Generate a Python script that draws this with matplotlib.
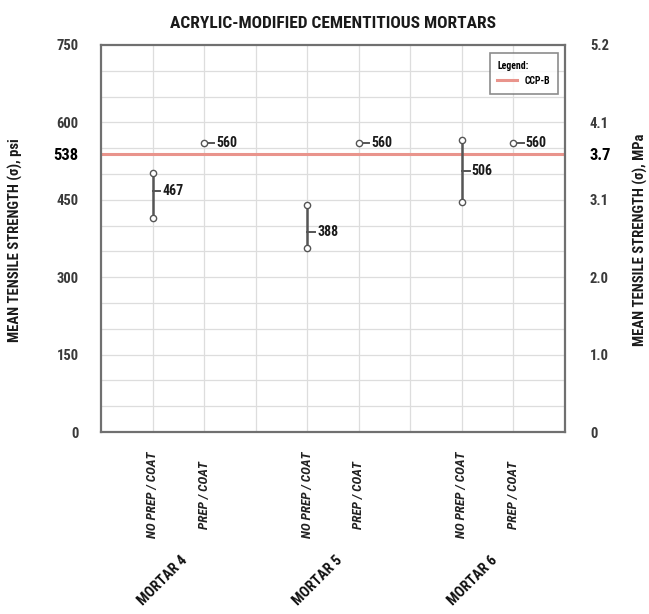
"""Acrylic-modified cementitious mortars: mean tensile strength ranges vs CCP-B."""

import matplotlib.pyplot as plt
import numpy as np
from matplotlib import font_manager

# pick a narrow face if one is installed
_names = {f.name for f in font_manager.fontManager.ttflist}
_narrow = [n for n in ["Liberation Sans Narrow", "DejaVu Sans Condensed",
                       "Roboto Condensed", "Open Sans Condensed"] if n in _names]
FONT = _narrow[:1] + ["DejaVu Sans"]
plt.rcParams["font.family"] = FONT
plt.rcParams["font.weight"] = "bold"

# ---------------------------------------------------------------------------
# Data (psi)
# ---------------------------------------------------------------------------
mortars = ["MORTAR 4", "MORTAR 5", "MORTAR 6"]
conditions = ["NO PREP / COAT", "PREP / COAT"]

nopre_low = [414, 356, 446]
nopre_high = [501, 440, 566]
nopre_mean = [467, 388, 506]
prep_mean = [560, 560, 560]

ccp_b = 538

psi_ticks = [0, 150, 300, 450, 538, 600, 750]
mpa_labels = ["0", "1.0", "2.0", "3.1", "3.7", "4.1", "5.2"]

# category slots: two per mortar, an empty slot between groups
pos_nopre = np.array([1, 4, 7])
pos_prep = pos_nopre + 1

GRAY = "#555555"
RED = "#e9948c"

fig = plt.figure(figsize=(6.49, 6.14), dpi=100)
ax = fig.add_axes([101 / 649, 1 - 432 / 614, 464 / 649, 387 / 614])

ax.set_xlim(0, 9)
ax.set_ylim(0, 750)

# grid
for y in range(50, 750, 50):
    ax.axhline(y, color="#dddddd", lw=0.9, zorder=0)
for x in range(1, 9):
    ax.axvline(x, color="#dddddd", lw=0.9, zorder=0)

# CCP-B reference
ax.axhline(ccp_b, color=RED, lw=2.2, zorder=1, label="CCP-B")

# no prep / coat ranges
for x, lo, hi, m in zip(pos_nopre, nopre_low, nopre_high, nopre_mean):
    ax.plot([x, x], [lo, hi], color=GRAY, lw=1.8, zorder=2)
    ax.plot([x, x], [lo, hi], ls="none", marker="o", ms=4.5, mfc="white",
            mec=GRAY, mew=1.0, zorder=3)
    ax.plot([x, x + 0.15], [m, m], color=GRAY, lw=1.4, zorder=2)
    ax.text(x + 0.19, m, str(m), ha="left", va="center", fontsize=10,
            color="#1a1a1a", fontweight="bold")

# prep / coat single values
for x, m in zip(pos_prep, prep_mean):
    ax.plot([x, x + 0.2], [m, m], color=GRAY, lw=1.4, zorder=2)
    ax.plot([x], [m], ls="none", marker="o", ms=4.5, mfc="white",
            mec=GRAY, mew=1.0, zorder=3)
    ax.text(x + 0.24, m, str(m), ha="left", va="center", fontsize=10,
            color="#1a1a1a", fontweight="bold")

for sp in ax.spines.values():
    sp.set_color("#707070")
    sp.set_linewidth(1.6)

# left axis
ax.set_yticks(psi_ticks)
ax.set_yticklabels([str(t) for t in psi_ticks])
ax.tick_params(axis="y", length=0, pad=16, labelsize=10.5, labelcolor="#3a3a3a")
for lab in ax.get_yticklabels():
    if lab.get_text() == str(ccp_b):
        lab.set_color("black")
        lab.set_fontsize(12)

# x tick labels
xticks = np.concatenate([pos_nopre, pos_prep])
ax.set_xticks(xticks)
ax.set_xticklabels([conditions[0]] * 3 + [conditions[1]] * 3)
ax.tick_params(axis="x", length=0, pad=0)
for lab in ax.get_xticklabels():
    lab.set_rotation(90)
    lab.set_fontstyle("italic")
    lab.set_fontsize(9.5)
    lab.set_color("#222222")
    lab.set_va("center")
    lab.set_ha("center")
    lab.set_y(-0.163)

# mortar group labels
for x, name in zip(pos_nopre, mortars):
    ax.text(x + 0.2, -0.385, name, transform=ax.get_xaxis_transform(),
            rotation=45, ha="center", va="center", fontsize=10.5,
            color="#111111", fontweight="heavy")

# right axis (MPa)
ax2 = ax.twinx()
ax2.set_ylim(0, 750 * 0.006895)
ax2.set_yticks([t * 0.006895 for t in psi_ticks])
ax2.set_yticklabels(mpa_labels)
ax2.tick_params(axis="y", length=0, pad=18, labelsize=10.5, labelcolor="#3a3a3a")
for lab in ax2.get_yticklabels():
    if lab.get_text() == "3.7":
        lab.set_color("black")
        lab.set_fontsize(12)
for sp in ax2.spines.values():
    sp.set_visible(False)

ax.set_title("ACRYLIC-MODIFIED CEMENTITIOUS MORTARS", fontsize=12.5,
             fontweight="heavy", pad=12, color="#1a1a1a")

fig.text(15 / 649, 1 - 240 / 614, "MEAN TENSILE STRENGTH (σ), psi",
         rotation=90, ha="center", va="center", fontsize=10.5, color="#1a1a1a")
fig.text(640 / 649, 1 - 240 / 614, "MEAN TENSILE STRENGTH (σ), MPa",
         rotation=90, ha="center", va="center", fontsize=10.5, color="#1a1a1a")

leg = ax.legend(loc="upper right", title="Legend:", fontsize=7,
                title_fontsize=7, frameon=True, fancybox=False,
                edgecolor="#707070", handlelength=2.0, borderpad=0.8,
                borderaxespad=0, bbox_to_anchor=(0.985, 0.979))
leg._legend_box.align = "left"
leg.get_frame().set_linewidth(1.2)

fig.savefig("out.png", dpi=100)
